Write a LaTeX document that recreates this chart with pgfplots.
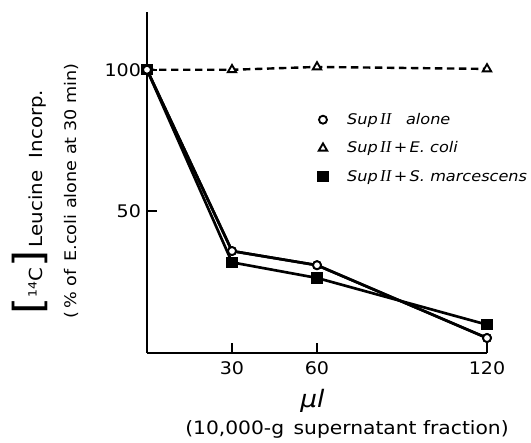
\documentclass[border=0pt]{standalone}
\usepackage{fontspec}
\setmainfont{DejaVu Sans}[FakeStretch=1.1]
\newfontfamily\serifii{Liberation Serif}
\usepackage{pgfplots}
\pgfplotsset{compat=1.18}
\newcommand{\II}{{\serifii\itshape\fontsize{12.5}{12.5}\selectfont II}}
\begin{document}
\begin{tikzpicture}
\useasboundingbox (-110.25pt,-66.75pt) rectangle (288pt,264.75pt);
\begin{axis}[
  at={(0pt,0pt)}, anchor=south west,
  width=255pt, height=255.75pt, scale only axis,
  xmin=0, xmax=120, ymin=0, ymax=120.4,
  axis x line=bottom, axis y line=left,
  axis line style={-, line width=1.7pt},
  xtick={30,60,120}, ytick={50,100},
  tick align=inside, major tick length=7.5pt,
  tick style={line width=1.6pt, black},
  /pgf/number format/assume math mode=true,
  ticklabel style={font=\fontsize{13}{15}\selectfont},
  xticklabel style={yshift=-3pt},
  yticklabel style={xshift=-1pt},
  clip=false,
  legend cell align=left,
  legend style={draw=none, fill=none, at={(0.485,0.712)}, anchor=north west,
    font=\fontsize{11}{13}\selectfont\itshape, row sep=7.5pt, inner sep=0pt},
  legend image code/.code={\draw[#1, solid] plot coordinates {(0.25cm,0cm)}; \path (0,0) (0.78cm,0);},
]
\addplot[black, line width=2pt, mark=*, mark size=3pt,
  mark options={fill=white, line width=1.4pt}]
  coordinates {(0,100) (30,36) (60,31) (120,5.3)};
\addlegendentry{Sup\,\II\quad alone}
\addplot[black, line width=1.8pt, dash pattern=on 5.5pt off 3.5pt, forget plot]
  coordinates {(0,100) (30,100) (60,101) (120,100.3)};
\addplot[black, only marks, mark=triangle*, mark size=3.6pt,
  mark options={fill=white, line width=1.4pt}]
  coordinates {(30,100) (60,101) (120,100.3)};
\addlegendentry{Sup\,\II\,+\,E. coli}
\addplot[black, line width=2pt, mark=square*, mark size=3.2pt,
  mark options={fill=black}]
  coordinates {(0,100) (30,32) (60,26.5) (120,10)};
\addlegendentry{Sup\,\II\,+\,S. marcescens}
% redraw circles on top
\addplot[black, line width=2pt, mark=*, mark size=3pt,
  mark options={fill=white, line width=1.4pt}, forget plot]
  coordinates {(0,100) (30,36) (60,31) (120,5.3)};
\end{axis}
\node[rotate=90, font=\fontsize{13.5}{15}\selectfont] at (-87.75pt,113.25pt)
  {{\fontsize{30}{30}\selectfont[}\raisebox{0.6ex}{\fontsize{8.5}{9}\selectfont 14}C{\fontsize{30}{30}\selectfont]}\,Leucine\ \ Incorp.};
\node[rotate=90, font=\fontsize{12}{13}\selectfont] at (-56.5pt,121.5pt)
  {(\,\% of\, E.coli alone at 30 min)};
\node[font=\fontsize{18}{20}\selectfont\itshape] at (124pt,-36pt) {µl};
\node[font=\fontsize{13.8}{15}\selectfont] at (150pt,-57pt) {(10,000-g\, supernatant fraction)};
\end{tikzpicture}
\end{document}
